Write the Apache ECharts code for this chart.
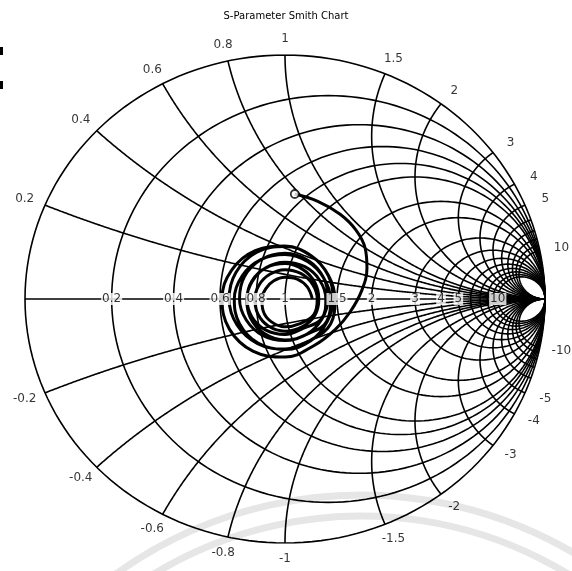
<!DOCTYPE html>
<html>
<head>
<meta charset="utf-8">
<title>S-Parameter Smith Chart</title>
<script src="https://cdn.jsdelivr.net/npm/echarts@6.0.0/dist/echarts.min.js"></script>
<style>
    html, body { margin: 0; padding: 0; background: #fff; }
    #main { width: 572px; height: 571px; }
</style>
</head>
<body>
<div id="main"></div>
<script>
// grid values of the chart (normalized impedance)
var resistanceValues = [0, 0.2, 0.4, 0.6, 0.8, 1, 1.5, 2, 3, 4, 5, 6, 7, 8, 9, 10];
var reactanceValues = [0.2, 0.4, 0.6, 0.8, 1, 1.5, 2, 3, 4, 5, 6, 7, 8, 9, 10];

// labels
var axisLabels = ['0.2', '0.4', '0.6', '0.8', '1', '1.5', '2', '3', '4', '5', '10'];
var rimLabels = ['0.2', '0.4', '0.6', '0.8', '1', '1.5', '2', '3', '4', '5', '10',
    '-0.2', '-0.4', '-0.6', '-0.8', '-1', '-1.5', '-2', '-3', '-4', '-5', '-10'];

// S11 trace, magnitude and angle (deg)
var s11Mag = [0.432, 0.42, 0.407, 0.393, 0.372, 0.34, 0.298, 0.256, 0.23,
    0.221, 0.238, 0.247, 0.247, 0.242, 0.237, 0.229, 0.217, 0.203, 0.193, 0.192, 0.203,
    0.195, 0.205, 0.211, 0.213, 0.215, 0.218, 0.22, 0.215, 0.204, 0.192, 0.185, 0.187,
    0.198, 0.207, 0.208, 0.202, 0.195, 0.19, 0.186, 0.182, 0.176, 0.172, 0.175, 0.185,
    0.167, 0.17, 0.172, 0.172, 0.175, 0.181, 0.186, 0.187, 0.181, 0.172, 0.165, 0.164,
    0.167, 0.168, 0.162, 0.154, 0.147, 0.145, 0.148, 0.151, 0.153, 0.154, 0.157, 0.162,
    0.139, 0.145, 0.147, 0.147, 0.146, 0.147, 0.147, 0.145, 0.139, 0.133, 0.13, 0.133,
    0.132, 0.132, 0.128, 0.121, 0.116, 0.115, 0.117, 0.12, 0.121, 0.122, 0.124, 0.128,
    0.116, 0.114, 0.107, 0.097, 0.089, 0.085, 0.086, 0.089, 0.094, 0.099, 0.105];
var s11Ang = [85, 72.5, 58.6, 46, 34, 22, 7, -12, -33,
    -60, -90, -120, -150, -180, -210, -240, -270, -300, -330, -360, -390,
    -420, -450, -480, -510, -540, -570, -600, -630, -660, -690, -720, -750,
    -780, -810, -840, -870, -900, -930, -960, -990, -1020, -1050, -1080, -1110,
    -1140, -1170, -1200, -1230, -1260, -1290, -1320, -1350, -1380, -1410, -1440, -1470,
    -1500, -1530, -1560, -1590, -1620, -1650, -1680, -1710, -1740, -1770, -1800, -1830,
    -1860, -1890, -1920, -1950, -1980, -2010, -2040, -2070, -2100, -2130, -2160, -2190,
    -2220, -2250, -2280, -2310, -2340, -2370, -2400, -2430, -2460, -2490, -2520, -2550,
    -2580, -2610, -2640, -2670, -2700, -2730, -2760, -2790, -2820, -2850, -2880];

var fontFam = '"DejaVu Sans", Verdana, sans-serif';

// z -> gamma
function gamma(r, x) {
    var d = (r + 1) * (r + 1) + x * x;
    return [(r * r - 1 + x * x) / d, 2 * x / d];
}

function resistanceCircle(r) {
    var pts = [];
    for (var a = 0; a <= 360; a += 2) {
        var t = a * Math.PI / 180;
        pts.push([r / (1 + r) + Math.cos(t) / (1 + r), Math.sin(t) / (1 + r)]);
    }
    return pts;
}

function reactanceArc(x) {
    var pts = [];
    for (var i = 0; i < 400; i++) {
        var t = i / 400;
        var r = t / (1 - t);
        pts.push(gamma(r, x));
    }
    pts.push([1, 0]);
    return pts;
}

var gridLines = [];
resistanceValues.forEach(function (r) {
    gridLines.push({coords: resistanceCircle(r)});
});
reactanceValues.forEach(function (x) {
    gridLines.push({coords: reactanceArc(x)});
    gridLines.push({coords: reactanceArc(-x)});
});
gridLines.push({coords: [[-1, 0], [1, 0]]});

var axisLabelData = axisLabels.map(function (s) {
    var r = parseFloat(s);
    return {name: s, value: [(r - 1) / (r + 1), 0]};
});

var rimLabelData = rimLabels.map(function (s) {
    var x = parseFloat(s);
    var g = gamma(0, x);
    var th = Math.atan2(g[1], g[0]);
    return {
        name: s,
        value: g,
        label: {offset: [Math.cos(th) * 22, -Math.sin(th) * 16]}
    };
});

// polar -> cartesian reflection coefficient
var traceData = s11Mag.map(function (m, i) {
    var a = s11Ang[i] * Math.PI / 180;
    return [m * Math.cos(a), m * Math.sin(a)];
});

var myChart = echarts.init(document.getElementById('main'));
myChart.setOption({
    backgroundColor: '#fff',
    animation: false,
    title: {
        text: 'S-Parameter Smith Chart',
        left: 'center',
        top: 6,
        textStyle: {fontSize: 10, fontWeight: 'normal', color: '#000', fontFamily: fontFam}
    },
    grid: {left: 25, right: 27, top: 55, bottom: 28},
    xAxis: {type: 'value', min: -1, max: 1, show: false},
    yAxis: {type: 'value', min: -1, max: 1, show: false},
    graphic: [
        // faint watermark arcs and edge marks of the scan
        {type: 'arc', z: -10, shape: {cx: 361, cy: 915, r: 420, startAngle: Math.PI * 1.05, endAngle: Math.PI * 1.95},
            style: {stroke: '#e6e6e6', lineWidth: 7, fill: null}},
        {type: 'arc', z: -10, shape: {cx: 361, cy: 915, r: 399, startAngle: Math.PI * 1.05, endAngle: Math.PI * 1.95},
            style: {stroke: '#e6e6e6', lineWidth: 7, fill: null}},
        {type: 'rect', shape: {x: 0, y: 47, width: 3, height: 8}, style: {fill: '#000'}},
        {type: 'rect', shape: {x: 0, y: 81, width: 3, height: 8}, style: {fill: '#000'}}
    ],
    series: [
        {
            name: 'grid',
            type: 'lines',
            coordinateSystem: 'cartesian2d',
            polyline: true,
            silent: true,
            lineStyle: {color: '#000', width: 1.6, opacity: 1},
            data: gridLines,
            z: 2
        },
        {
            name: 'S11',
            type: 'line',
            data: traceData,
            smooth: 0.4,
            showSymbol: false,
            lineStyle: {color: '#000', width: 3},
            z: 3
        },
        {
            name: 'start',
            type: 'scatter',
            data: [traceData[0]],
            symbol: 'circle',
            symbolSize: 8,
            itemStyle: {color: '#fff', borderColor: '#000', borderWidth: 1.8},
            z: 4
        },
        {
            name: 'axisLabels',
            type: 'scatter',
            data: axisLabelData,
            symbolSize: 1,
            itemStyle: {color: 'rgba(0,0,0,0)'},
            label: {
                show: true,
                position: 'inside',
                formatter: '{b}',
                color: '#000',
                fontSize: 12,
                fontFamily: fontFam,
                backgroundColor: '#fff',
                padding: [0, 1]
            },
            z: 5
        },
        {
            name: 'rimLabels',
            type: 'scatter',
            data: rimLabelData,
            symbolSize: 1,
            itemStyle: {color: 'rgba(0,0,0,0)'},
            label: {
                show: true,
                position: 'inside',
                formatter: '{b}',
                color: '#000',
                fontSize: 12,
                fontFamily: fontFam
            },
            z: 5
        }
    ]
});
</script>
</body>
</html>
